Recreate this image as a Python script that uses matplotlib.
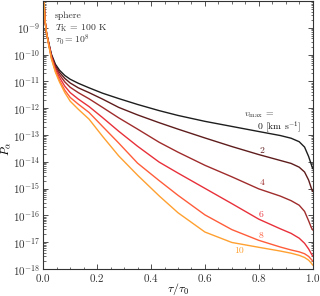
import numpy as np
import matplotlib
matplotlib.use("Agg")
import matplotlib.pyplot as plt
from matplotlib.ticker import LogLocator, MultipleLocator, NullFormatter

plt.rcParams['font.family'] = 'serif'
plt.rcParams['font.serif'] = ['cmr10', 'DejaVu Serif']
plt.rcParams['mathtext.fontset'] = 'cm'
plt.rcParams['axes.formatter.use_mathtext'] = True

# ---- data (tau/tau0, log10 P_alpha) ----
vmax = [0, 2, 4, 6, 8, 10]
head_tau = [0.0, 0.0026, 0.0063, 0.012]
head_logp = [-7.4, -7.96, -8.71, -9.20]

tau = [0.02, 0.03, 0.045, 0.06, 0.08, 0.10, 0.13, 0.17, 0.22, 0.28, 0.35, 0.43,
       0.50, 0.60, 0.70, 0.80, 0.88, 0.92, 0.95, 0.97, 0.985, 0.995, 1.0]

logp_v0 = [-9.55, -9.98, -10.36, -10.58, -10.78, -10.92, -11.07, -11.24, -11.44, -11.64, -11.86, -12.09,
           -12.27, -12.49, -12.68, -12.87, -13.02, -13.12, -13.25, -13.45, -13.80, -14.10, -14.25]
logp_v2 = [-9.57, -10.02, -10.42, -10.66, -10.89, -11.06, -11.24, -11.42, -11.66, -11.97, -12.25, -12.54,
           -12.78, -13.11, -13.43, -13.73, -13.95, -14.06, -14.20, -14.38, -14.68, -14.98, -15.10]
logp_v4 = [-9.58, -10.05, -10.48, -10.75, -11.02, -11.22, -11.42, -11.65, -11.97, -12.36, -12.78, -13.27,
           -13.64, -14.13, -14.56, -15.01, -15.28, -15.45, -15.62, -15.85, -16.20, -16.45, -16.54]
logp_v6 = [-9.60, -10.08, -10.55, -10.85, -11.18, -11.42, -11.66, -11.94, -12.35, -12.86, -13.42, -14.01,
           -14.42, -14.99, -15.56, -16.14, -16.50, -16.67, -16.85, -17.04, -17.25, -17.43, -17.51]
logp_v8 = [-9.62, -10.12, -10.62, -10.96, -11.33, -11.60, -11.85, -12.16, -12.68, -13.30, -14.05, -14.70,
           -15.25, -15.98, -16.53, -16.93, -17.18, -17.29, -17.36, -17.43, -17.53, -17.64, -17.70]
logp_v10 = [-9.64, -10.16, -10.66, -11.02, -11.42, -11.74, -12.04, -12.41, -13.05, -13.78, -14.50, -15.27,
            -15.90, -16.62, -17.01, -17.19, -17.33, -17.41, -17.49, -17.57, -17.67, -17.78, -17.85]

series_logp = [logp_v0, logp_v2, logp_v4, logp_v6, logp_v8, logp_v10]

colors = ['#1e1e1e', '#5e1c1c', '#a02c2c', '#e8303a', '#ff5c3a', '#ffa030']
label_pos = [(0.877, -12.70), (0.813, -13.60), (0.813, -14.80), (0.81, -15.98), (0.81, -16.75), (0.725, -17.33)]

fig = plt.figure(figsize=(3.2, 2.96), dpi=100)
ax = fig.add_axes([0.1353, 0.0912, 0.977 - 0.1353, 0.9966 - 0.0912])

for v, lp, c in zip(vmax, series_logp, colors):
    tt = np.array(head_tau + tau)
    pp = 10.0 ** np.array(head_logp + lp)
    ax.plot(tt, pp, color=c, lw=1.0)

ax.set_yscale('log')
ax.set_xlim(0, 1)
ax.set_ylim(1e-18, 1e-8)
ax.set_yticks([10.0 ** k for k in range(-18, -8)])
ax.yaxis.set_minor_locator(LogLocator(base=10, subs=np.arange(2, 10), numticks=20))
ax.yaxis.set_minor_formatter(NullFormatter())
ax.xaxis.set_major_locator(MultipleLocator(0.2))
ax.xaxis.set_minor_locator(MultipleLocator(0.05))
ax.tick_params(which='both', direction='in', top=True, right=True, labelsize=8, colors='#333333', pad=2.5)
ax.tick_params(which='major', length=3.5, width=0.6)
ax.tick_params(which='minor', length=1.8, width=0.5)
for s in ax.spines.values():
    s.set_linewidth(0.8)
    s.set_color('#333333')

ax.set_xlabel(r'$\tau/\tau_0$', fontsize=8.5)
ax.xaxis.set_label_coords(0.5, -0.046)
ax.set_ylabel(r'$P_\alpha$', fontsize=8.5)
ax.yaxis.set_label_coords(-0.112, 0.45)

ax.text(0.0435, 0.946, 'sphere', transform=ax.transAxes, fontsize=7, va='center', ha='left', color='#333333')
ax.text(0.0435, 0.900, r'$T_{\rm K}$ = 100 K', transform=ax.transAxes, fontsize=7, va='center', ha='left', color='#333333')
ax.text(0.0435, 0.854, r'$\tau_0 = 10^8$', transform=ax.transAxes, fontsize=7, va='center', ha='left', color='#333333')

ax.text(0.80, 10 ** -12.25, r'$v_{\rm max}$ =', fontsize=7, ha='center', va='center', color='#333333')
for v, (x, y), c in zip(vmax, label_pos, colors):
    s = '%d [km s$^{-1}$]' % v if v == 0 else '%d' % v
    ax.text(x, 10 ** y, s, fontsize=7, ha='center', va='center', color=c)

fig.savefig('out.png', dpi=100)
